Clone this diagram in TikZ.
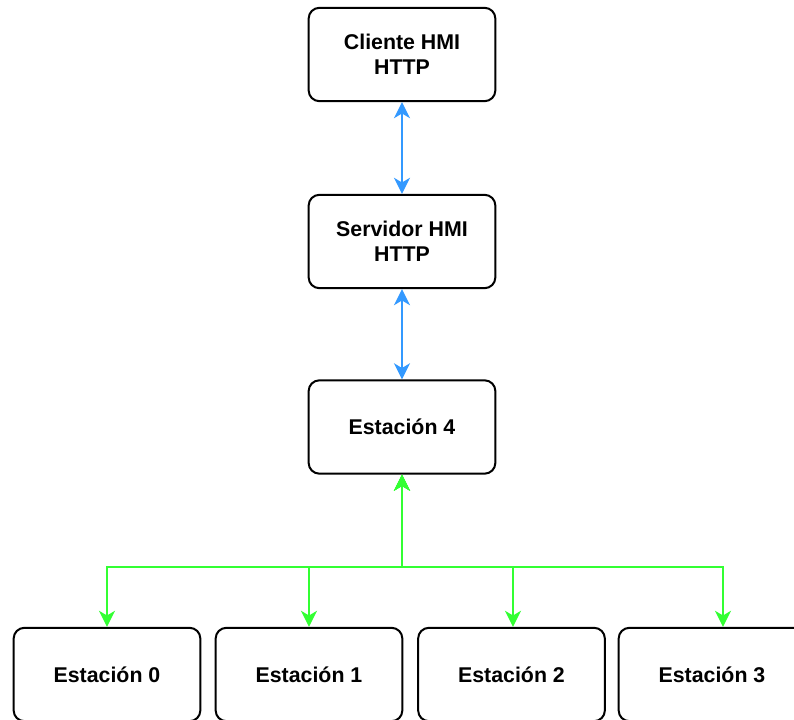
\documentclass[tikz,border=0pt]{standalone}
\usepackage{fontspec}
\setmainfont{Liberation Sans}
\usepackage{tikz}
\usetikzlibrary{arrows.meta,calc}
\definecolor{linkblue}{HTML}{3399FF}
\definecolor{linkgreen}{HTML}{33FF33}
\definecolor{ink}{HTML}{000000}

\begin{document}
\begin{tikzpicture}[x=0.75pt,y=-0.75pt,
    >={Stealth[length=12pt,width=12pt,inset=3.5pt]},
    station/.style={draw=ink,line width=1.5pt,rounded corners=8pt,fill=white,
      minimum width=140pt,minimum height=70pt,align=center,
      font=\fontsize{16}{19}\selectfont\bfseries},
    bluelink/.style={linkblue,line width=1.8pt,<->},
    greenlink/.style={linkgreen,line width=1.8pt,<->}]
  \clip (0,0) rectangle (794,720);
  \node[station] (client) at (402,54.5) {Cliente HMI\\HTTP};
  \node[station] (server) at (402,241.5) {Servidor HMI\\HTTP};
  \node[station] (st4) at (402,427) {Estación 4};
  \foreach \n/\x in {0/107,1/309,2/511.5,3/712}
    \node[station] (st\n) at (\x,674.5) {Estación \n};
  \coordinate (bus) at (402,567);
  \draw[bluelink] (client) -- (server);
  \draw[bluelink] (server) -- (st4);
  \foreach \n/\dx in {0/0,1/0,2/1.5,3/11}
    \draw[greenlink] (st4.south) -- (bus) -| ($(st\n.north)+(\dx,0)$);
\end{tikzpicture}
\end{document}
